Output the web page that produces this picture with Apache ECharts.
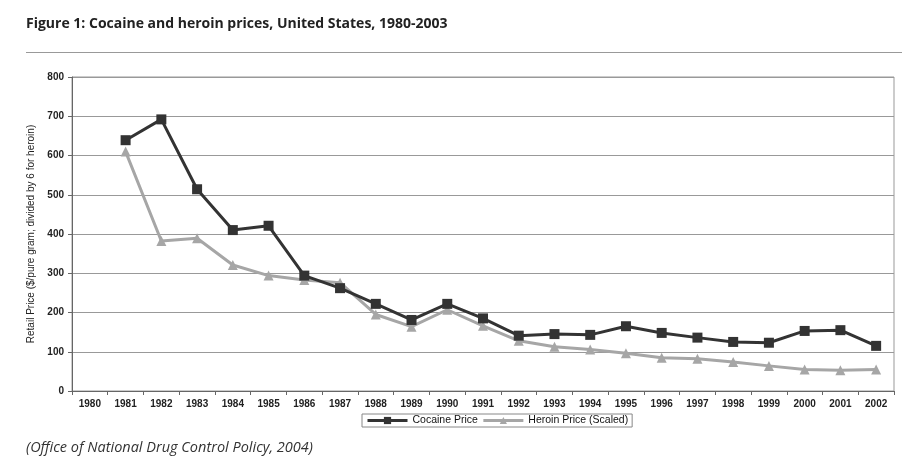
<!DOCTYPE html>
<html><head><meta charset="utf-8">
<script src="https://cdn.jsdelivr.net/npm/echarts@6/dist/echarts.min.js"></script>
<style>html,body{margin:0;padding:0;background:#fff}#c{width:902px;height:472px}</style>
</head><body><div id="c"></div>
<script>
const years = ['1980','1981','1982','1983','1984','1985','1986','1987','1988','1989','1990','1991','1992','1993','1994','1995','1996','1997','1998','1999','2000','2001','2002'];
const cocaine = [null,639,692,514,410,421,294,262,222,181,222,185,141,145,143,165,148,136,125,123,153,155,115];
const heroin = [null,610,382,389,321,294,283,276,195,164,207,166,128,113,106,96,85,82,74,64,55,53,55];
const yTicks = [0,100,200,300,400,500,600,700,800];

const chart = echarts.init(document.getElementById('c'));
chart.setOption({
  animation:false,
  title:{text:'Figure 1: Cocaine and heroin prices, United States, 1980-2003',left:21,top:12,
    textStyle:{fontFamily:'Open Sans',fontSize:14,fontWeight:'bold',color:'#222'}},
  graphic:[
    {type:'line',shape:{x1:26,y1:52.5,x2:902,y2:52.5},style:{stroke:'#999',lineWidth:1}},
    {type:'text',left:26,top:440,style:{text:'(Office of National Drug Control Policy, 2004)',font:'italic 14.5px "Open Sans"',fill:'#333'}}
  ],
  legend:{top:414,left:362,itemWidth:40,itemHeight:9,itemGap:4,padding:[1,4],
    borderColor:'#888',borderWidth:1,borderRadius:0,
    lineStyle:{width:3},
    textStyle:{fontFamily:'Liberation Sans',fontSize:10.5,color:'#111'},
    data:['Cocaine Price','Heroin Price (Scaled)']},
  grid:{left:72,right:8,top:77,bottom:81,show:true,borderColor:'#999',borderWidth:1,backgroundColor:'transparent'},
  xAxis:{type:'category',data:years,boundaryGap:true,
    axisLine:{lineStyle:{color:'#666',width:1}},
    axisTick:{show:true,length:4,lineStyle:{color:'#666'}},
    axisLabel:{fontFamily:'Liberation Sans',fontSize:10,fontWeight:'bold',color:'#222',margin:8}},
  yAxis:{type:'value',min:0,max:800,interval:100,
    name:'Retail Price ($/pure gram; divided by 6 for heroin)',nameLocation:'middle',nameGap:34,
    nameTextStyle:{fontFamily:'Liberation Sans',fontSize:10,color:'#222'},
    axisLine:{show:true,lineStyle:{color:'#666'}},
    axisTick:{show:true,length:4,lineStyle:{color:'#666'}},
    axisLabel:{fontFamily:'Liberation Sans',fontSize:10,fontWeight:'bold',color:'#222',margin:8,
      formatter:v=>yTicks.includes(v)?String(v):''},
    splitLine:{lineStyle:{color:'#999',width:1}}},
  series:[
    {name:'Cocaine Price',type:'line',data:cocaine,symbol:'rect',symbolSize:10,
      lineStyle:{color:'#333',width:3},itemStyle:{color:'#333'},z:3},
    {name:'Heroin Price (Scaled)',type:'line',data:heroin,symbol:'triangle',symbolSize:10,
      lineStyle:{color:'#a6a6a6',width:3},itemStyle:{color:'#a6a6a6'},z:2}
  ]
});
</script></body></html>
